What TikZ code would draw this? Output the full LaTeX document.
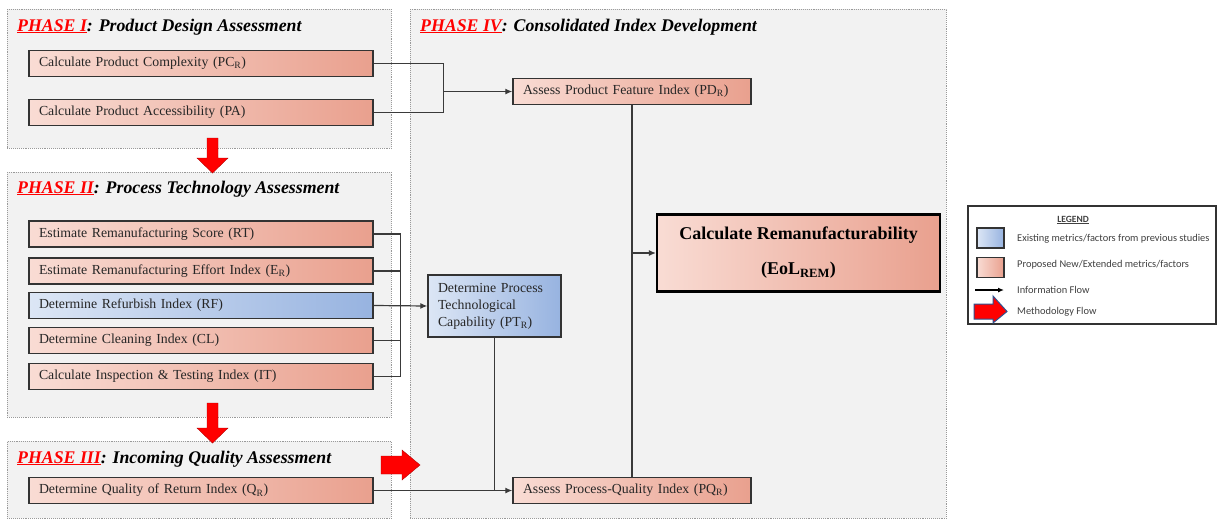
\documentclass[tikz,border=0pt]{standalone}
\usepackage{fontspec}
\setmainfont{Liberation Serif}
\newfontfamily\legendfont{Carlito}
\usetikzlibrary{arrows.meta}
\definecolor{pinkA}{HTML}{F9DCD4}
\definecolor{pinkB}{HTML}{E9A08E}
\definecolor{blueA}{HTML}{DCE6F5}
\definecolor{blueB}{HTML}{97B3E0}
\definecolor{phasefill}{HTML}{F2F2F2}
\definecolor{edge}{HTML}{333333}
\definecolor{wire}{HTML}{3A3A3A}
\definecolor{legtext}{HTML}{404040}
\definecolor{legblue}{HTML}{2F528F}
\tikzset{
  phasebox/.style={draw=gray!80, densely dotted, line width=0.9pt, fill=phasefill,
    anchor=north west, inner sep=0pt},
  phasetitle/.style={anchor=base west, inner sep=0pt,
    font=\fontsize{17.8}{19}\selectfont\bfseries\itshape},
  proc/.style={draw=edge, line width=1.4pt, left color=pinkA, right color=pinkB,
    inner xsep=10pt, inner ysep=0pt, align=left, minimum height=#1,
    font=\fontsize{13.8}{16}\selectfont, text=black!85},
  proc/.default=26pt,
  procblue/.style={proc=#1, left color=blueA, right color=blueB},
  procblue/.default=26pt,
  wireline/.style={draw=wire, line width=1.2pt},
  flow/.style={wireline, -{Latex[length=7pt,width=6pt]}},
  bigarrow/.style={fill=red, draw=red!70!black, line width=0.4pt},
  legtxt/.style={anchor=west, inner sep=0pt, font=\legendfont\fontsize{10.4}{12}\selectfont, text=legtext}
}
\newcommand{\phasetag}[1]{{\color{red}\underline{#1}}}
\begin{document}
\begin{tikzpicture}[x=1pt,y=-1pt]
\useasboundingbox (0,0) rectangle (1220,520);
\fill[white] (0,0) rectangle (1220,520);

% phase containers
\node[phasebox, minimum width=384pt, minimum height=139pt] (ph1) at (7,9) {};
\node[phasebox, minimum width=384pt, minimum height=245pt] (ph2) at (7,172) {};
\node[phasebox, minimum width=384pt, minimum height=77pt] (ph3) at (7,441) {};
\node[phasebox, minimum width=536pt, minimum height=509pt] (ph4) at (410,9) {};

% phase titles
\node[phasetitle] (t1) at (17,31) {\phasetag{PHASE I}: Product Design Assessment};
\node[phasetitle] (t2) at (17,193) {\phasetag{PHASE II}: Process Technology Assessment};
\node[phasetitle] (t3) at (17,463) {\phasetag{PHASE III}: Incoming Quality Assessment};
\node[phasetitle] (t4) at (420,31) {\phasetag{PHASE IV}: Consolidated Index Development};

% phase I
\node[proc, text width=324pt] (pc) at (201,63.5) {Calculate Product Complexity (PC\textsubscript{R})};
\node[proc, text width=324pt] (pa) at (201,112.5) {Calculate Product Accessibility (PA)};

% phase II
\node[proc, text width=324pt] (rt) at (201,234) {Estimate Remanufacturing Score (RT)};
\node[proc, text width=324pt] (er) at (201,271) {Estimate Remanufacturing Effort Index (E\textsubscript{R})};
\node[procblue, text width=324pt] (rf) at (201,305.5) {Determine Refurbish Index (RF)};
\node[proc, text width=324pt] (cl) at (201,340.5) {Determine Cleaning Index (CL)};
\node[proc, text width=324pt] (it) at (201,376.5) {Calculate Inspection \& Testing Index (IT)};

% phase III
\node[proc, text width=324pt] (qr) at (201,490.5) {Determine Quality of Return Index (Q\textsubscript{R})};

% phase IV
\node[proc, text width=218pt] (pd) at (632,91.5) {Assess Product Feature Index (PD\textsubscript{R})};
\node[procblue=62pt, text width=113pt, inner xsep=10pt, font=\fontsize{13.8}{17}\selectfont] (pt) at (494.5,306)
  {Determine Process\\Technological\\Capability (PT\textsubscript{R})};
\node[proc, text width=218pt] (pq) at (632,490.5) {Assess Process-Quality Index (PQ\textsubscript{R})};
\node[proc=77pt, line width=2.2pt, draw=black, minimum width=283pt, align=center, inner xsep=0pt,
  font=\fontsize{18}{35}\selectfont\bfseries, text=black] (rem) at (798.5,253)
  {Calculate Remanufacturability\\(EoL\textsubscript{REM})};

% information flow
\draw[wireline] (pc.east) -- ++(70,0) |- (pa.east);
\coordinate (j1) at (443,0);
\draw[flow] (j1 |- pd.west) -- (pd.west);

\draw[wireline] (rt.east) -- ++(27,0) |- (it.east);
\draw[wireline] (er.east) -- ++(27,0);
\draw[wireline] (cl.east) -- ++(27,0);
\draw[flow] (rf.east) -- (pt.west);

\draw[wireline] (pt.south) -- (pt.south |- pq.west);
\draw[flow] (qr.east) -- (pq.west);

\draw[wireline] (pd.south) -- (pq.north);
\draw[flow] (pd.south |- rem.west) -- (rem.west);

% methodology flow
\draw[bigarrow] (207,138) -- (218,138) -- (218,158) -- (228,158) -- (212.5,173)
  -- (197,158) -- (207,158) -- cycle;
\draw[bigarrow] (207,403) -- (218,403) -- (218,428) -- (228,428) -- (212.5,443)
  -- (197,428) -- (207,428) -- cycle;
\draw[bigarrow] (381,456) -- (402,456) -- (402,450) -- (420,465) -- (402,480)
  -- (402,474) -- (381,474) -- cycle;

% legend
\node[draw=black!80, line width=1.6pt, fill=white, minimum width=248pt, minimum height=118pt,
  anchor=north west, inner sep=0pt] (leg) at (967,205) {};
\node[anchor=center, inner sep=0pt, font=\legendfont\fontsize{9.5}{11}\selectfont\bfseries, text=legtext]
  (legt) at (1073,220) {\underline{LEGEND}};
\node[draw=edge, line width=1.2pt, left color=blueA, right color=blueB, minimum width=27pt,
  minimum height=20pt, inner sep=0pt] (sw1) at (990.5,238) {};
\node[draw=edge, line width=1.2pt, left color=pinkA, right color=pinkB, minimum width=27pt,
  minimum height=20pt, inner sep=0pt] (sw2) at (990.5,267.5) {};
\node[legtxt] (l1) at (1017,239) {Existing metrics/factors from previous studies};
\node[legtxt] (l2) at (1017,265) {Proposed New/Extended metrics/factors};
\node[legtxt] (l3) at (1017,290) {Information Flow};
\node[legtxt] (l4) at (1017,312) {Methodology Flow};
\coordinate (ia) at (975,290);
\draw[draw=black, line width=1.2pt, -{Latex[length=6pt,width=5pt]}] (ia) -- (l3.west -| 1004,0);
\draw[fill=red, draw=legblue, line width=1pt] (974,304) -- (993,304) -- (993,296) -- (1007,311.5)
  -- (993,323) -- (993,319) -- (974,319) -- cycle;
\end{tikzpicture}
\end{document}
